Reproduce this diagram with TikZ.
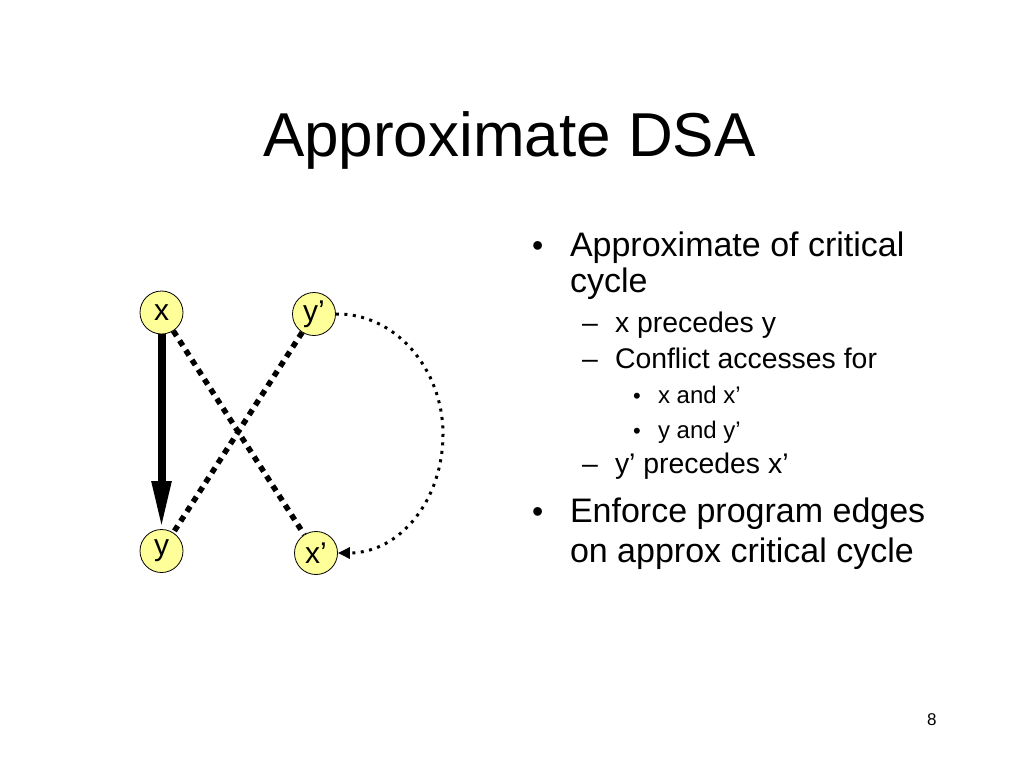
\documentclass[tikz,border=0pt]{standalone}
\usepackage{fontspec}
\setmainfont{Liberation Sans}
\usetikzlibrary{arrows.meta,shapes.geometric}
\definecolor{nodeyellow}{RGB}{255,255,153}
\tikzset{
  vnode/.style={circle,draw=black,line width=0.8pt,fill=nodeyellow,minimum size=43pt,inner sep=0pt,font=\fontsize{30}{32}\selectfont},
  txt/.style={anchor=base west,inner sep=0pt,outer sep=0pt},
  lone/.style={txt,font=\fontsize{34}{40}\selectfont},
  ltwo/.style={txt,font=\fontsize{28.4}{34}\selectfont},
  lthree/.style={txt,font=\fontsize{24}{28}\selectfont},
  bone/.style={txt,font=\fontsize{32}{36}\selectfont},
  bthree/.style={txt,font=\fontsize{22}{26}\selectfont},
  progedge/.style={line width=8pt,-{Triangle[length=48pt,width=18pt]}},
  conflict/.style={line width=5.5pt,dash pattern=on 6pt off 5.5pt},
  order/.style={line width=3pt,dash pattern=on 3pt off 5.5pt,-{Triangle[length=12pt,width=11pt]}}
}
\begin{document}
\begin{tikzpicture}[x=1pt,y=-1pt]
\useasboundingbox[fill=white] (0,0) rectangle (1024,768);
% title
\node[txt,font=\fontsize{62}{70}\selectfont] (title) at (263,156) {Approximate DSA};
% graph nodes
\node[vnode] (x) at (161.5,312.5) {x};
\node[vnode] (yp) at (314,314) {y’};
\node[vnode] (y) at (161.5,551) {y};
\node[vnode] (xp) at (316,553) {x’};
% edges
\draw[progedge] (x.south) -- (y.north);
\draw[conflict] (x) -- (xp);
\draw[conflict] (yp) -- (y);
\coordinate (bulge) at (443,434);
\draw[order] (yp.east) .. controls (396,313) and (443,370) .. (bulge)
  .. controls (443,500) and (400,553) .. (xp.east);
% bullet text
\node[bone] (b1) at (532,256) {•};
\node[lone] (t1a) at (570,256) {Approximate of critical};
\node[lone] (t1b) at (570,292) {cycle};
\node[ltwo] (d1) at (582,332) {–};
\node[ltwo] (t2a) at (615,332) {x precedes y};
\node[ltwo] (d2) at (582,368) {–};
\node[ltwo] (t2b) at (615,368) {Conflict accesses for};
\node[bthree] (s1) at (633,403) {•};
\node[lthree] (t3a) at (658,403) {x and x’};
\node[bthree] (s2) at (633,438) {•};
\node[lthree] (t3b) at (658,438) {y and y’};
\node[ltwo] (d3) at (582,473) {–};
\node[ltwo] (t2c) at (615,473) {y’ precedes x’};
\node[bone] (b2) at (532,522) {•};
\node[lone] (t4a) at (570,522) {Enforce program edges};
\node[lone] (t4b) at (570,562) {on approx critical cycle};
% page number
\node[txt,font=\fontsize{17}{20}\selectfont] (page) at (927,725) {8};
\end{tikzpicture}
\end{document}
